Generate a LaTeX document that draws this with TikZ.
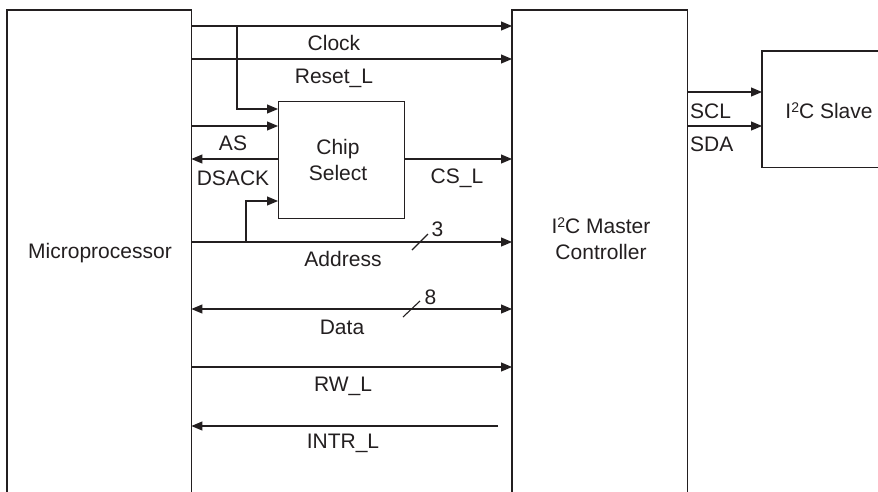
\documentclass[tikz,border=0pt]{standalone}
\usepackage{fontspec}
\setmainfont{Liberation Sans}
\usetikzlibrary{arrows.meta}
\definecolor{ink}{RGB}{35,31,32}
\newcommand{\supii}{\raisebox{0.55ex}{\fontsize{14}{14}\selectfont 2}}
\begin{document}
\begin{tikzpicture}[x=1pt,y=-1pt,
  outline/.style={draw=ink,line width=1.2pt},
  sig/.style={draw=ink,line width=1.1pt,-{Triangle[length=11pt,width=9pt]}},
  bisig/.style={draw=ink,line width=1.1pt,{Triangle[length=11pt,width=9pt]}-{Triangle[length=11pt,width=9pt]}},
  wire/.style={draw=ink,line width=1.1pt},
  lbl/.style={text=ink,inner sep=0pt,font=\fontsize{21}{26}\selectfont},
  hidden/.style={draw=none,inner sep=0pt,anchor=north west}]
\useasboundingbox (0,0) rectangle (878,491);
\fill[white] (0,0) rectangle (878,491);
% blocks (open at the bottom / clipped at the right)
\node[hidden,minimum width=184pt,minimum height=482pt] (mp) at (7,10) {};
\node[hidden,minimum width=175pt,minimum height=482pt] (mc) at (512,10) {};
\node[hidden,minimum width=140pt,minimum height=116pt] (sl) at (762,51) {};
\node[hidden,outline,minimum width=126pt,minimum height=117pt] (cs) at (278,101) {};
\draw[outline] (mp.south west) -- (mp.north west) -- (mp.north east) -- (mp.south east);
\draw[outline] (mc.south west) -- (mc.north west) -- (mc.north east) -- (mc.south east);
\draw[outline] (sl.north east) -- (sl.north west) -- (sl.south west) -- (sl.south east);
% block texts
\node[lbl] (mptxt) at (100,253) {Microprocessor};
\node[lbl,align=center] (cstxt) at (338,160) {Chip\\Select};
\node[lbl,align=center] (mctxt) at (601,238.5) {I\supii C Master\\Controller};
\node[lbl] (sltxt) at (829,111) {I\supii C Slave};
% junction points
\coordinate (jclk) at (237,26);
\coordinate (jadr) at (246,242);
\coordinate (intrs) at (498,426);
% signals
\draw[sig] (mp.east |- 0,26) -- (mc.west |- 0,26);
\draw[sig] (jclk) |- (cs.west |- 0,109);
\draw[sig] (mp.east |- 0,59) -- (mc.west |- 0,59);
\draw[sig] (mp.east |- 0,126) -- (cs.west |- 0,126);
\draw[sig] (cs.west |- 0,159) -- (mp.east |- 0,159);
\draw[sig] (cs.east |- 0,159) -- (mc.west |- 0,159);
\draw[sig] (mp.east |- jadr) -- (mc.west |- jadr);
\draw[sig] (jadr) |- (cs.west |- 0,201);
\draw[bisig] (mp.east |- 0,309) -- (mc.west |- 0,309);
\draw[sig] (mp.east |- 0,367) -- (mc.west |- 0,367);
\draw[sig] (intrs) -- (mp.east |- intrs);
\draw[sig] (mc.east |- 0,92) -- (sl.west |- 0,92);
\draw[sig] (mc.east |- 0,126) -- (sl.west |- 0,126);
% bus slashes
\coordinate (s3a) at (412,250); \coordinate (s3b) at (428,234);
\coordinate (s8a) at (403,317); \coordinate (s8b) at (420,301);
\draw[wire] (s3a) -- (s3b);
\draw[wire] (s8a) -- (s8b);
% labels
\node[lbl] (lclk) at (334,43) {Clock};
\node[lbl] (lrst) at (334,78) {Reset\_L};
\node[lbl] (las) at (233,143) {AS};
\node[lbl] (ldsack) at (233,178) {DSACK};
\node[lbl] (lcs) at (457,178) {CS\_L};
\node[lbl] (ladr) at (343,259) {Address};
\node[lbl] (l3) at (437.5,229) {3};
\node[lbl] (ldata) at (342,327) {Data};
\node[lbl] (l8) at (430.5,297) {8};
\node[lbl] (lrw) at (343,386) {RW\_L};
\node[lbl] (lintr) at (343,443) {INTR\_L};
\node[lbl,anchor=west] (lscl) at (690,111) {SCL};
\node[lbl,anchor=west] (lsda) at (690,144) {SDA};
\end{tikzpicture}
\end{document}
